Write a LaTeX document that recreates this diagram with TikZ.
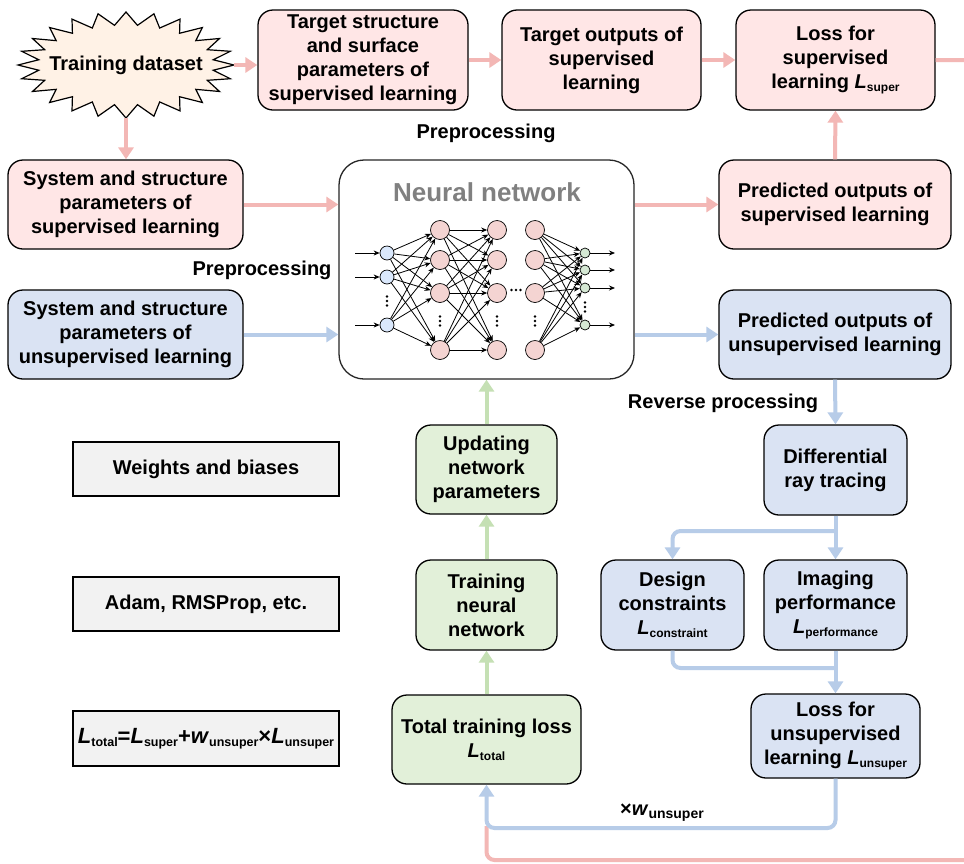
\documentclass[tikz,border=0pt]{standalone}
\usepackage{fontspec}
\setmainfont{Liberation Sans}
\usetikzlibrary{arrows.meta}

\definecolor{pinkfill}{RGB}{255,230,230}
\definecolor{bluefill}{RGB}{218,227,243}
\definecolor{greenfill}{RGB}{226,240,217}
\definecolor{grayfill}{RGB}{242,242,242}
\definecolor{starfill}{RGB}{255,242,230}
\definecolor{pinkline}{RGB}{243,183,181}
\definecolor{blueline}{RGB}{183,204,232}
\definecolor{greenline}{RGB}{197,224,180}
\definecolor{nnpink}{RGB}{244,212,210}
\definecolor{nnblue}{RGB}{218,232,252}
\definecolor{nngreen}{RGB}{213,232,212}
\definecolor{titlegray}{RGB}{128,128,128}

% italic symbol with a lowered, smaller subscript
\newcommand{\sym}[3][12]{\textit{#2}{\fontsize{#1}{#1}\selectfont\raisebox{-3pt}{#3}}}

\begin{document}
\begin{tikzpicture}[x=1pt,y=-1pt,
  txt/.style={font=\bfseries\fontsize{20}{24}\selectfont, align=center, inner sep=0pt},
  box/.style 2 args={txt, draw=black, line width=1.3pt, rounded corners=15pt,
    minimum width=#1, minimum height=#2},
  pbox/.style 2 args={box={#1}{#2}, fill=pinkfill},
  bbox/.style 2 args={box={#1}{#2}, fill=bluefill},
  gbox/.style 2 args={box={#1}{#2}, fill=greenfill},
  sbox/.style={txt, draw=black, line width=1.3pt, fill=grayfill,
    minimum width=266pt, minimum height=54pt},
  tip/.style={-{Triangle[width=15pt,length=12pt]}},
  pline/.style={draw=pinkline, line width=4pt},
  bline/.style={draw=blueline, line width=4pt},
  gline/.style={draw=greenline, line width=4pt},
  pflow/.style={pline, tip},
  bflow/.style={bline, tip},
  gflow/.style={gline, tip},
  neuron/.style={circle, draw=black, line width=0.7pt, inner sep=0pt},
  hneuron/.style={neuron, fill=nnpink, minimum size=19pt},
  ineuron/.style={neuron, fill=nnblue, minimum size=14pt},
  oneuron/.style={neuron, fill=nngreen, minimum size=10pt},
  syn/.style={draw=black, line width=0.8pt, -{Stealth[length=6pt,width=5pt]}},
]
\useasboundingbox (0,0) rectangle (964,863);
\fill[white] (0,0) rectangle (964,863);
\clip (0,0) rectangle (964,863);

% ---------- training data star ----------
\draw[fill=starfill, line width=1.2pt] (234,65)
  \foreach \k in {1,...,47} { -- ({126+ifthenelse(isodd(\k),88,108)*cos(7.5*\k)},
                                  {65+ifthenelse(isodd(\k),40,53)*sin(7.5*\k)}) } -- cycle;
\node[txt, minimum width=216pt, minimum height=106pt] (data) at (126,65) {Training dataset};

% ---------- supervised branch ----------
\node[pbox={210pt}{100pt}] (tsp) at (363,60) {Target structure\\and surface\\parameters of\\supervised learning};
\node[pbox={199pt}{100pt}] (tout) at (601.5,60) {Target outputs of\\supervised\\learning};
\node[pbox={199pt}{100pt}] (lsup) at (835.5,60) {Loss for\\supervised\\learning \sym{L}{super}};
\node[pbox={235pt}{89pt}] (ssup) at (125.5,204.5) {System and structure\\parameters of\\supervised learning};
\node[pbox={232pt}{89pt}] (psup) at (835,204.5) {Predicted outputs of\\supervised learning};

% ---------- unsupervised branch ----------
\node[bbox={235pt}{89pt}] (sunsup) at (125.5,334.5) {System and structure\\parameters of\\unsupervised learning};
\node[bbox={232pt}{89pt}] (punsup) at (835,334.5) {Predicted outputs of\\unsupervised learning};
\node[bbox={143pt}{90pt}] (diff) at (835.5,470) {Differential\\ray tracing};
\node[bbox={143pt}{90pt}] (design) at (672.5,605) {Design\\constraints\\\sym{L}{constraint}};
\node[bbox={143pt}{90pt}] (imag) at (835.5,605) {Imaging\\performance\\\sym{L}{performance}};
\node[bbox={169pt}{84pt}] (lunsup) at (835.5,736) {Loss for\\unsupervised\\learning \sym{L}{unsuper}};

% ---------- training loop ----------
\node[gbox={141pt}{89pt}] (update) at (486.5,469.5) {Updating\\network\\parameters};
\node[gbox={141pt}{90pt}] (train) at (486.5,605) {Training\\neural\\network};
\node[gbox={189pt}{89pt}] (ltotal) at (486.5,739.5) {Total training loss\\\sym{L}{total}};

% ---------- side notes ----------
\node[sbox] (wb) at (206,469) {Weights and biases};
\node[sbox] (adam) at (206,604) {Adam, RMSProp, etc.};
\node[sbox, minimum height=55pt, font=\bfseries\fontsize{22}{26}\selectfont] (formula) at (206,738.5)
  {\sym[12.5]{L}{total}=\sym[12.5]{L}{super}+\sym[12.5]{w}{unsuper}×\sym[12.5]{L}{unsuper}};

% ---------- labels ----------
\node[txt] (prep1) at (486,133) {Preprocessing};
\node[txt] (prep2) at (262,270) {Preprocessing};
\node[txt] (rev) at (723,403) {Reverse processing};
\node[txt] (wlab) at (662,813) {×\sym[14]{w}{unsuper}};

% ---------- neural network ----------
\node[draw=black!85, line width=1.3pt, rounded corners=25pt, fill=white,
  minimum width=295pt, minimum height=219pt, inner sep=0pt] (nn) at (486.5,269.5) {};
\node[font=\bfseries\fontsize{26}{30}\selectfont, text=titlegray, inner sep=0pt] (nntitle) at (487,192) {Neural network};

\foreach \n/\y in {1/253,2/277,3/325} {
  \node[ineuron] (i\n) at (387,\y) {};
  \coordinate (x\n) at (355,\y);
}
\foreach \n/\y in {1/230,2/260,3/293,4/350} {
  \node[hneuron] (a\n) at (440,\y) {};
  \node[hneuron] (b\n) at (497,\y) {};
  \node[hneuron] (c\n) at (535,\y) {};
}
\foreach \n/\y in {1/253,2/270,3/288,4/325} {
  \node[oneuron] (o\n) at (585,\y) {};
  \coordinate (y\n) at (615,\y);
}
\foreach \n in {1,2,3} {
  \draw[syn] (x\n) -- (i\n);
  \foreach \t in {1,...,4} \draw[syn] (i\n) -- (a\t);
}
\foreach \s in {1,...,4} {
  \foreach \t in {1,...,4} {
    \draw[syn] (a\s) -- (b\t);
    \draw[syn] (c\s) -- (o\t);
  }
  \draw[syn] (o\s) -- (y\s);
}
% ellipsis dots
\foreach \x/\y in {387/301,440/321,497/321,535/321,585/307}
  \foreach \d in {-4.5,0,4.5} \fill (\x,\y+\d) circle (1.3);
\foreach \d in {-4.5,0,4.5} \fill (516+\d,290) circle (1.3);

% ---------- connectors ----------
\coordinate (pinkcorner) at (990,860);
\draw[pline, rounded corners=8pt] (lsup.east) -| (pinkcorner) -- (ltotal.south |- pinkcorner) -- ++(0,-34);

\draw[pflow] (data.east) -- (tsp.west |- data.east);
\draw[pflow] (tsp.east) -- (tout.west);
\draw[pflow] (tout.east) -- (lsup.west);
\draw[pflow] (data.south) -- (ssup.north -| data.south);
\draw[pflow] (ssup.east) -- (nn.west |- ssup.east);
\draw[pflow] (nn.east |- psup.west) -- (psup.west);
\draw[pflow] (psup.north) -- (lsup.south);

\draw[bflow] (sunsup.east) -- (nn.west |- sunsup.east);
\draw[bflow] (nn.east |- punsup.west) -- (punsup.west);
\draw[bflow] (punsup.south) -- (diff.north);
\draw[bflow] (diff.south) -- (imag.north);
\coordinate (split) at (835.5,531);
\draw[bflow, rounded corners=8pt] (split) -| (design.north);
\coordinate (merge) at (835.5,668);
\draw[bline, rounded corners=8pt] (design.south) |- (merge);
\draw[bflow] (imag.south) -- (lunsup.north);
\coordinate (wmid) at (662,828);
\draw[bflow, rounded corners=8pt] (lunsup.south) |- (wmid) -| (ltotal.south);

\draw[gflow] (ltotal.north) -- (train.south);
\draw[gflow] (train.north) -- (update.south);
\draw[gflow] (update.north) -- (nn.south);
\end{tikzpicture}
\end{document}
